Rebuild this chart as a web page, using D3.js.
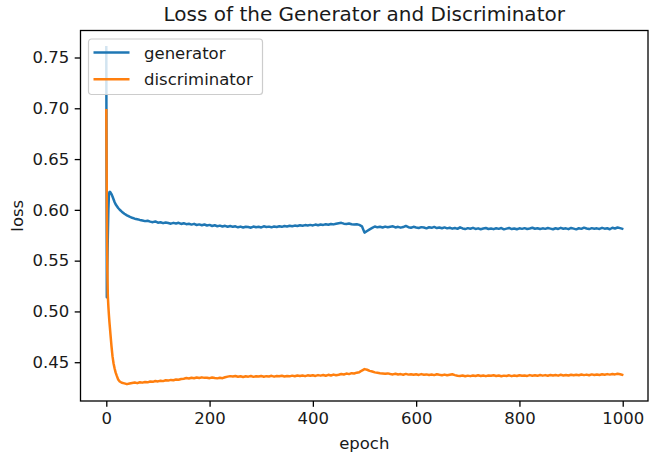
<!DOCTYPE html>
<html lang="en">
<head>
<meta charset="UTF-8">
<title>Loss of the Generator and Discriminator</title>
<script src="https://d3js.org/d3.v7.min.js"></script>
<style>
    html, body {
        margin: 0;
        padding: 0;
        background: #fff;
    }
    svg text {
        font-family: 'DejaVu Sans', sans-serif;
        fill: #1a1a1a;
    }
</style>
</head>
<body>
<div id="chart"></div>
<script>

// epochs sampled from the training log
var epochs = [0,1,2,3,4,5,6,7,8,10,12,14,16,18,20,23,26,30,35,40,45,
    50,55,60,65,70,75,80,85,90,95,100,105,110,115,120,125,130,135,140,145,
    150,155,160,165,170,175,180,185,190,195,200,205,210,215,220,225,230,235,240,245,
    250,255,260,265,270,275,280,285,290,295,300,305,310,315,320,325,330,335,340,345,
    350,355,360,365,370,375,380,385,390,395,400,405,410,415,420,425,430,435,440,445,
    450,455,460,465,470,475,480,485,490,495,500,505,510,515,520,525,530,535,540,545,
    550,555,560,565,570,575,580,585,590,595,600,605,610,615,620,625,630,635,640,645,
    650,655,660,665,670,675,680,685,690,695,700,705,710,715,720,725,730,735,740,745,
    750,755,760,765,770,775,780,785,790,795,800,805,810,815,820,825,830,835,840,845,
    850,855,860,865,870,875,880,885,890,895,900,905,910,915,920,925,930,935,940,945,
    950,955,960,965,970,975,980,985,990,995,999];

var generator = [0.760,0.514,0.545,0.575,0.600,0.614,0.6175,0.6178,0.6172,0.6155,0.6132,0.6105,0.6078,0.6055,0.6040,0.6018,0.6001,0.5982,0.5962,0.5946,0.5933,
    0.5922,0.5913,0.5908,0.5901,0.5896,0.5889,0.5893,0.5884,0.5879,0.5886,
    0.5874,0.5878,0.5869,0.5876,0.5871,0.5864,0.5872,0.5866,0.5873,0.5861,
    0.5868,0.5859,0.5863,0.5855,0.5862,0.5851,0.5857,0.5849,0.5856,0.5846,
    0.5852,0.5841,0.5848,0.5839,0.5845,0.5836,0.5843,0.5834,0.5841,0.5833,
    0.5838,0.5828,0.5835,0.5826,0.5834,0.5831,0.5824,0.5836,0.5829,0.5833,
    0.5827,0.5838,0.5831,0.5835,0.5828,0.5837,0.5832,0.5839,0.5833,0.5841,
    0.5836,0.5843,0.5838,0.5845,0.5841,0.5848,0.5843,0.5850,0.5846,0.5852,
    0.5847,0.5855,0.5849,0.5856,0.5852,0.5858,0.5853,0.5861,0.5857,0.5864,
    0.5869,0.5872,0.5864,0.5861,0.5866,0.5858,0.5855,0.5859,0.5852,0.5838,
    0.5776,0.5792,0.5808,0.5822,0.5836,0.5828,0.5833,0.5826,0.5835,0.5829,
    0.5834,0.5838,0.5827,0.5833,0.5825,0.5831,0.5842,0.5829,0.5824,0.5833,
    0.5827,0.5822,0.5830,0.5826,0.5818,0.5829,0.5823,0.5832,0.5821,0.5826,
    0.5819,0.5827,0.5818,0.5824,0.5815,0.5822,0.5813,0.5828,0.5817,0.5811,
    0.5820,0.5814,0.5823,0.5812,0.5818,0.5809,0.5816,0.5821,0.5812,0.5817,
    0.5810,0.5819,0.5813,0.5821,0.5808,0.5815,0.5822,0.5811,0.5817,0.5809,
    0.5818,0.5813,0.5820,0.5812,0.5816,0.5824,0.5814,0.5819,0.5811,0.5818,
    0.5813,0.5821,0.5815,0.5809,0.5819,0.5812,0.5823,0.5814,0.5818,0.5810,
    0.5822,0.5815,0.5808,0.5819,0.5813,0.5825,0.5816,0.5811,0.5820,0.5814,
    0.5818,0.5812,0.5823,0.5815,0.5819,0.5809,0.5824,0.5817,0.5826,0.5820,0.5814];

var discriminator = [0.698,0.610,0.540,0.515,0.505,0.497,0.490,0.484,0.478,0.466,0.456,0.449,0.444,0.440,0.437,0.433,0.431,0.4298,0.4292,0.4284,0.4291,
    0.4296,0.4301,0.4294,0.4303,0.4299,0.4306,0.4302,0.4310,0.4307,0.4315,
    0.4311,0.4318,0.4314,0.4322,0.4319,0.4326,0.4323,0.4330,0.4327,0.4334,
    0.4338,0.4344,0.4340,0.4347,0.4342,0.4349,0.4344,0.4351,0.4346,0.4348,
    0.4343,0.4350,0.4345,0.4341,0.4347,0.4343,0.4352,0.4358,0.4363,0.4359,
    0.4364,0.4357,0.4362,0.4355,0.4361,0.4358,0.4364,0.4356,0.4362,0.4359,
    0.4365,0.4357,0.4363,0.4360,0.4366,0.4358,0.4364,0.4361,0.4367,0.4360,
    0.4365,0.4361,0.4368,0.4362,0.4369,0.4364,0.4370,0.4363,0.4371,0.4366,
    0.4372,0.4365,0.4373,0.4368,0.4374,0.4367,0.4376,0.4369,0.4378,0.4371,
    0.4376,0.4384,0.4379,0.4388,0.4383,0.4392,0.4389,0.4397,0.4402,0.4418,
    0.4432,0.4426,0.4415,0.4408,0.4400,0.4396,0.4392,0.4389,0.4386,0.4390,
    0.4384,0.4380,0.4386,0.4379,0.4383,0.4377,0.4385,0.4378,0.4382,0.4376,
    0.4381,0.4375,0.4383,0.4377,0.4380,0.4374,0.4379,0.4373,0.4381,0.4376,
    0.4372,0.4378,0.4371,0.4376,0.4381,0.4373,0.4366,0.4364,0.4369,0.4362,
    0.4368,0.4363,0.4370,0.4365,0.4371,0.4364,0.4369,0.4363,0.4370,0.4366,
    0.4371,0.4364,0.4369,0.4362,0.4368,0.4365,0.4371,0.4363,0.4369,0.4364,
    0.4372,0.4366,0.4370,0.4365,0.4373,0.4367,0.4371,0.4366,0.4374,0.4368,
    0.4373,0.4367,0.4375,0.4369,0.4374,0.4368,0.4376,0.4370,0.4375,0.4369,
    0.4377,0.4371,0.4376,0.4372,0.4379,0.4373,0.4378,0.4372,0.4380,0.4374,
    0.4379,0.4375,0.4381,0.4376,0.4383,0.4378,0.4384,0.4380,0.4386,0.4382,0.4376];

var seriesNames = ['generator', 'discriminator'];
var seriesColors = ['#1f77b4', '#ff7f0e'];
var xTicks = [0, 200, 400, 600, 800, 1000];
var yTicks = [0.45, 0.50, 0.55, 0.60, 0.65, 0.70, 0.75];

var W = 655, H = 464;
var margin = {top: 30.5, right: 7, bottom: 63, left: 80.5};
var width = W - margin.left - margin.right,
    height = H - margin.top - margin.bottom;

var svg = d3.select('#chart')
    .append('svg')
    .attr('width', W)
    .attr('height', H);

svg.append('rect')
    .attr('width', W)
    .attr('height', H)
    .attr('fill', '#fff');

var g = svg.append('g')
    .attr('transform', 'translate(' + margin.left + ',' + margin.top + ')');

// matplotlib style 5% margins around the data
var xMin = d3.min(epochs), xMax = d3.max(epochs);
var xPad = (xMax - xMin) * 0.05;
var allY = generator.concat(discriminator);
var yMin = d3.min(allY), yMax = d3.max(allY);
var yPad = (yMax - yMin) * 0.05;

var x = d3.scaleLinear()
    .domain([xMin - xPad, xMax + xPad])
    .range([0, width]);

var y = d3.scaleLinear()
    .domain([yMin - yPad, yMax + yPad])
    .range([height, 0]);

g.append('clipPath')
    .attr('id', 'plot-clip')
    .append('rect')
    .attr('width', width)
    .attr('height', height);

var line = d3.line()
    .x(function(d) { return x(d[0]); })
    .y(function(d) { return y(d[1]); });

var series = [generator, discriminator];
series.forEach(function(vals, i) {
    var pts = epochs.map(function(e, j) { return [e, vals[j]]; });
    g.append('path')
        .datum(pts)
        .attr('clip-path', 'url(#plot-clip)')
        .attr('fill', 'none')
        .attr('stroke', seriesColors[i])
        .attr('stroke-width', 2.5)
        .attr('stroke-linejoin', 'round')
        .attr('stroke-linecap', 'square')
        .attr('d', line);
});

// axes
var xAxis = d3.axisBottom(x)
    .tickValues(xTicks)
    .tickFormat(d3.format('d'))
    .tickSize(5.8)
    .tickPadding(5.5);

var yAxis = d3.axisLeft(y)
    .tickValues(yTicks)
    .tickFormat(d3.format('.2f'))
    .tickSize(5.8)
    .tickPadding(5.5);

var gx = g.append('g')
    .attr('transform', 'translate(0,' + height + ')')
    .call(xAxis);

var gy = g.append('g')
    .call(yAxis);

[gx, gy].forEach(function(ax) {
    ax.select('.domain').remove();
    ax.selectAll('.tick line')
        .attr('stroke', '#000')
        .attr('stroke-width', 1.3);
    ax.selectAll('.tick text')
        .style('font-size', '16.5px')
        .style('font-family', "'DejaVu Sans', sans-serif")
        .attr('fill', '#1a1a1a');
});

// frame
g.append('rect')
    .attr('width', width)
    .attr('height', height)
    .attr('fill', 'none')
    .attr('stroke', '#000')
    .attr('stroke-width', 1.3);

// title and labels
svg.append('text')
    .attr('x', margin.left + width / 2)
    .attr('y', 21)
    .attr('text-anchor', 'middle')
    .style('font-size', '20px')
    .text('Loss of the Generator and Discriminator');

svg.append('text')
    .attr('x', margin.left + width / 2)
    .attr('y', 449)
    .attr('text-anchor', 'middle')
    .style('font-size', '16.5px')
    .text('epoch');

svg.append('text')
    .attr('transform', 'translate(23,' + (margin.top + height / 2) + ') rotate(-90)')
    .attr('text-anchor', 'middle')
    .style('font-size', '16.5px')
    .text('loss');

// legend
var legend = svg.append('g')
    .attr('transform', 'translate(88.5,39)');

legend.append('rect')
    .attr('width', 174)
    .attr('height', 55.5)
    .attr('rx', 3)
    .attr('fill', '#fff')
    .attr('fill-opacity', 0.8)
    .attr('stroke', '#ccc')
    .attr('stroke-width', 1.2);

seriesNames.forEach(function(name, i) {
    var ly = 13.5 + i * 26.7;
    legend.append('line')
        .attr('x1', 5)
        .attr('x2', 41)
        .attr('y1', ly)
        .attr('y2', ly)
        .attr('stroke', seriesColors[i])
        .attr('stroke-width', 2.5);
    legend.append('text')
        .attr('x', 55.5)
        .attr('y', ly + 6)
        .style('font-size', '16.5px')
        .text(name);
});

    </script>
</body>
</html>
